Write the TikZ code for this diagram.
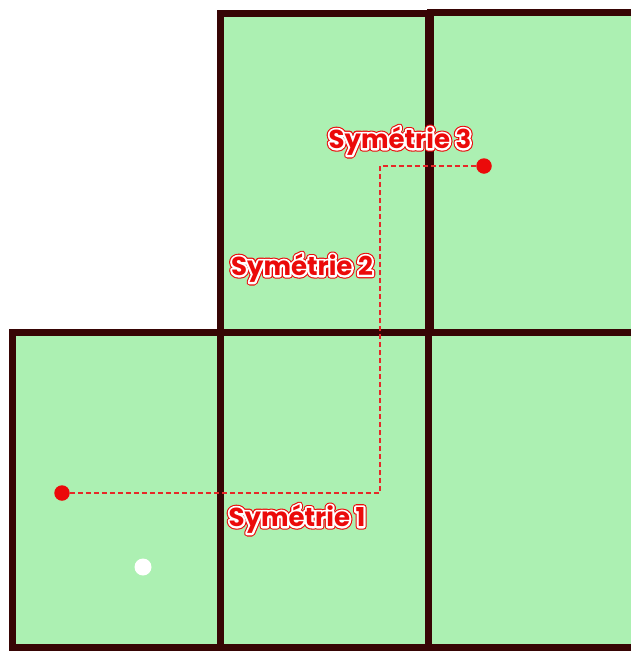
\documentclass[tikz,border=0pt]{standalone}
\usepackage{fontspec}
\newfontfamily\labelfont{Poppins}
\usetikzlibrary{positioning}

\definecolor{feltgreen}{RGB}{172,240,178}
\definecolor{frame}{RGB}{55,5,5}
\definecolor{pathred}{RGB}{230,40,40}
\definecolor{dotred}{RGB}{235,10,10}

% red letters, white rim, thin red edge
\newcommand{\rimtext}[1]{%
  \rlap{\special{pdf:literal direct 1 Tr 6.4 w 1 J 1 j 0.92 0.04 0.04 RG}#1\special{pdf:literal direct 0 Tr}}%
  \rlap{\special{pdf:literal direct 1 Tr 4.2 w 1 J 1 j 1 1 1 RG}#1\special{pdf:literal direct 0 Tr}}%
  #1}

\begin{document}
\begin{tikzpicture}[x=1pt, y=-1pt,
  cell/.style={fill=feltgreen, draw=frame, line width=7pt},
  labeltext/.style={text=dotred, font=\labelfont\bfseries\fontsize{26}{29}\selectfont, inner sep=0pt},
  marker/.style={circle, fill=dotred, inner sep=0pt, minimum size=15.5pt},
  ghost/.style={circle, fill=white, inner sep=0pt, minimum size=17pt},
  route/.style={draw=pathred, line width=1.1pt, dash pattern=on 5pt off 3pt}]

      \useasboundingbox (0,0) rectangle (631,651);
      \clip (0,0) rectangle (631,651);
      \fill[white] (0,0) rectangle (631,651);

      % top row
      \draw[cell] (220,13.5) rectangle (428,332);
      \draw[cell] (430,12) rectangle (645,332);
      % bottom row
      \draw[cell] (12.5,332) rectangle (220,647);
      \draw[cell] (220,332) rectangle (428,647);
      \draw[cell] (428,332) rectangle (645,647);

      \node[marker] (start) at (62,493) {};
      \node[marker] (goal) at (484,166) {};
      \node[ghost] (hole) at (143,567) {};

      \coordinate (turnA) at (380,493);
      \coordinate (turnB) at (380,166);
      \draw[route] (start) -- (turnA) -- (turnB) -- (goal);

      \node[labeltext] (symOne) at (297,519) {\rimtext{Symétrie 1}};
      \node[labeltext] (symTwo) at (302,268) {\rimtext{Symétrie 2}};
      \node[labeltext] (symThree) at (400,141) {\rimtext{Symétrie 3}};
\end{tikzpicture}
\end{document}
